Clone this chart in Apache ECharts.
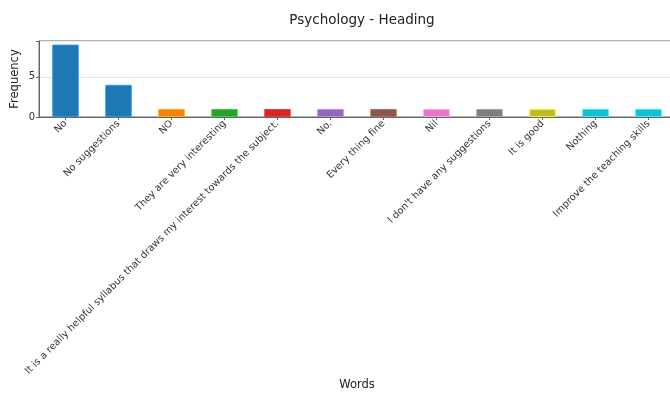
<!DOCTYPE html>
<html>
<head>
<meta charset="utf-8">
<script src="https://cdn.jsdelivr.net/npm/echarts@6/dist/echarts.min.js"></script>
<style>html,body{margin:0;padding:0;background:#fff;}#c{width:670px;height:398px;}</style>
</head>
<body>
<div id="c"></div>
<script>
const categories = ["No", "No suggestions", "NO", "They are very interesting", "It is a really helpful syllabus that draws my interest towards the subject.", "No.", "Every thing fine", "Nil", "I don't have any suggestions", "It is good", "Nothing", "Improve the teaching skills"];
const values = [9, 4, 1, 1, 1, 1, 1, 1, 1, 1, 1, 1];
const barColors = ["#1f77b4", "#1f77b4", "#ff7f0e", "#2ca02c", "#d62728", "#9467bd", "#8c564b", "#e377c2", "#7f7f7f", "#bcbd22", "#17becf", "#17becf"];
const yTicks = [0, 5];

const chart = echarts.init(document.getElementById('c'), null, {renderer: 'canvas'});
const font = 'DejaVu Sans';
chart.setOption({
  animation: false,
  title: {
    text: 'Psychology - Heading', left: 357, top: 8, textAlign: 'center',
    textStyle: {fontFamily: font, fontSize: 13.5, fontWeight: 'normal', color: '#222'}
  },
  grid: {left: 39, top: 41, width: 636, height: 76, show: true, borderColor: '#666', borderWidth: 1, backgroundColor: 'transparent', containLabel: false, outerBoundsMode: 'none'},
  xAxis: {
    type: 'category', data: categories,
    name: 'Words', nameLocation: 'middle', nameGap: 262, nameMoveOverlap: false,
    nameTextStyle: {fontFamily: font, fontSize: 11.5, color: '#222'},
    axisLine: {show: true, lineStyle: {color: '#666'}},
    axisTick: {show: true, alignWithLabel: true, length: 3, lineStyle: {color: '#666'}},
    axisLabel: {rotate: 45, interval: 0, fontFamily: font, fontSize: 9.8, color: '#333', margin: 5}
  },
  yAxis: {
    type: 'value', min: 0, max: 9.45, interval: 5,
    name: 'Frequency', nameLocation: 'middle', nameGap: 18, nameRotate: 90, nameMoveOverlap: false,
    nameTextStyle: {fontFamily: font, fontSize: 11.5, color: '#222'},
    axisLine: {show: true, lineStyle: {color: '#666'}},
    axisTick: {show: true, length: 3, lineStyle: {color: '#666'}},
    axisLabel: {fontFamily: font, fontSize: 10, color: '#333', margin: 4,
      formatter: v => yTicks.includes(v) ? String(v) : ''},
    splitLine: {show: true, lineStyle: {color: '#e6e6e6', width: 1}}
  },
  series: [{
    type: 'bar', barWidth: '50%',
    data: values.map((v, i) => ({value: v, itemStyle: {color: barColors[i], borderColor: echarts.color.lift(barColors[i], -0.3), borderWidth: 1}}))
  }]
});
</script>
</body>
</html>
